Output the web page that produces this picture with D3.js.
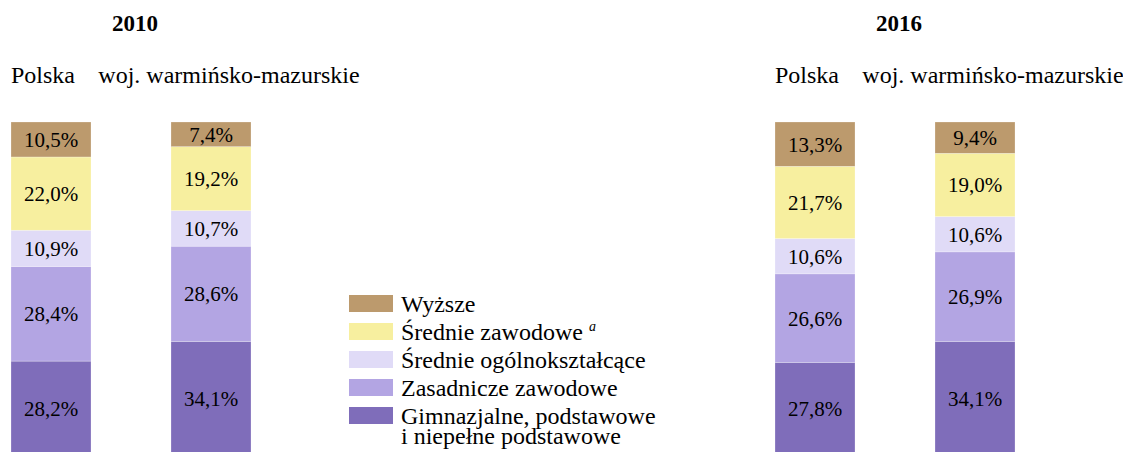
<!DOCTYPE html>
<html lang="pl">

<head>
	<meta charset="UTF-8">
	<script type="text/javascript" src="https://cdn.jsdelivr.net/npm/d3@7/dist/d3.min.js"></script>
	<title>Wykształcenie</title>
	<style>
		body { margin: 0; background: #fff; }
	</style>
</head>

<body>
	<div id="draw-here"></div>
	<script>
		/*Data*/
		var years = ["2010", "2016"];
		var regions = ["Polska", "woj. warmińsko-mazurskie"];
		/*categories from bottom to top of each bar*/
		var categories = ["Gimnazjalne, podstawowe i niepełne podstawowe", "Zasadnicze zawodowe",
			"Średnie ogólnokształcące", "Średnie zawodowe", "Wyższe"];
		var gimnazjalne = [28.2, 34.1, 27.8, 34.1];
		var zasadnicze = [28.4, 28.6, 26.6, 26.9];
		var srednieOgolne = [10.9, 10.7, 10.6, 10.6];
		var srednieZawodowe = [22.0, 19.2, 21.7, 19.0];
		var wyzsze = [10.5, 7.4, 13.3, 9.4];
		var colors = ["#7f6dba", "#b3a5e3", "#e0dbf7", "#f7ef9f", "#bc9a6d"];

		var w = 1123;
		var h = 452;
		var serif = "'Liberation Serif', 'DejaVu Serif', serif";

		/*build rows: one per year+region*/
		var series = [gimnazjalne, zasadnicze, srednieOgolne, srednieZawodowe, wyzsze];
		var rows = [];
		years.forEach(function(y, yi) {
			regions.forEach(function(r, ri) {
				var idx = yi * regions.length + ri;
				var row = { year: y, region: r };
				categories.forEach(function(c, ci) { row[c] = series[ci][idx]; });
				rows.push(row);
			});
		});

		var svg = d3.select("#draw-here")
			.append("svg")
			.attr("width", w)
			.attr("height", h)
			.attr("font-family", serif);

		/*scales*/
		var xYear = d3.scaleOrdinal().domain(years).range([0, 764]);
		var xRegion = d3.scaleBand().domain(regions).range([11, 251]).paddingInner(0.5).paddingOuter(0);
		var y = d3.scaleLinear().domain([0, 100]).range([455, 122]);
		var color = d3.scaleOrdinal().domain(categories).range(colors);

		var stack = d3.stack().keys(categories);
		var stacked = stack(rows);

		function barX(d) { return xYear(d.year) + xRegion(d.region); }

		/*bars*/
		var layers = svg.selectAll("g.layer")
			.data(stacked)
			.enter()
			.append("g")
			.attr("class", "layer")
			.attr("fill", function(d) { return color(d.key); });

		layers.selectAll("rect")
			.data(function(d) { return d; })
			.enter()
			.append("rect")
			.attr("x", function(d) { return barX(d.data); })
			.attr("y", function(d) { return y(d[1]); })
			.attr("width", xRegion.bandwidth())
			.attr("height", function(d) { return y(d[0]) - y(d[1]); })
			.attr("stroke", "#fff")
			.attr("stroke-opacity", 0.4)
			.attr("stroke-width", 0.6);

		/*value labels*/
		layers.selectAll("text")
			.data(function(d) { return d; })
			.enter()
			.append("text")
			.attr("text-anchor", "middle")
			.attr("font-size", "21px")
			.attr("fill", "#000")
			.attr("x", function(d) { return barX(d.data) + xRegion.bandwidth() / 2; })
			.attr("y", function(d) { return (y(d[0]) + y(d[1])) / 2; })
			.attr("dy", "0.36em")
			.text(function(d) { return (d[1] - d[0]).toFixed(1).replace(".", ",") + "%"; });

		/*year titles*/
		svg.selectAll("text.year")
			.data(years)
			.enter()
			.append("text")
			.attr("class", "year")
			.attr("text-anchor", "middle")
			.attr("font-size", "23px")
			.attr("font-weight", "bold")
			.attr("x", function(d) { return xYear(d) + 135; })
			.attr("y", 31)
			.text(function(d) { return d; });

		/*region labels*/
		svg.selectAll("text.region")
			.data(rows)
			.enter()
			.append("text")
			.attr("class", "region")
			.attr("font-size", "24px")
			.attr("text-anchor", function(d) { return d.region === regions[0] ? "start" : "middle"; })
			.attr("x", function(d) {
				var x0 = barX(d);
				return d.region === regions[0] ? x0 : x0 + xRegion.bandwidth() / 2 + 18;
			})
			.attr("y", 83)
			.text(function(d) { return d.region; });

		/*legend, top to bottom*/
		var legendItems = categories.slice().reverse();
		var legend = svg.append("g").attr("transform", "translate(349,295)");
		var item = legend.selectAll("g")
			.data(legendItems)
			.enter()
			.append("g")
			.attr("transform", function(d, i) { return "translate(0," + (i * 28) + ")"; });

		item.append("rect")
			.attr("width", 44)
			.attr("height", 17)
			.attr("fill", function(d) { return color(d); });

		item.append("text")
			.attr("x", 52)
			.attr("y", 17)
			.attr("font-size", "24px")
			.each(function(d) {
				var t = d3.select(this);
				if (d === "Średnie zawodowe") {
					t.append("tspan").text(d + " ");
					t.append("tspan")
						.attr("font-size", "14px")
						.attr("font-style", "italic")
						.attr("dy", "-9")
						.text("a");
				} else if (d.indexOf("Gimnazjalne") === 0) {
					t.append("tspan").text("Gimnazjalne, podstawowe");
					t.append("tspan").attr("x", 52).attr("dy", 20).text("i niepełne podstawowe");
				} else {
					t.text(d);
				}
			});
	</script>
</body>

</html>
